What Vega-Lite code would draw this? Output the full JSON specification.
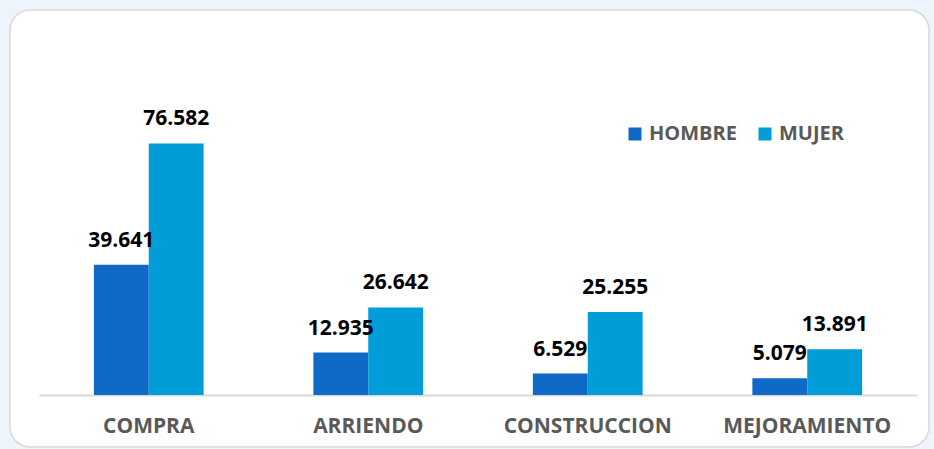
{
  "$schema": "https://vega.github.io/schema/vega-lite/v6.json",
  "width": 919,
  "height": 437,
  "autosize": {"type": "none"},
  "padding": {"left": 10, "top": 10, "right": 5, "bottom": 2},
  "background": "#EEF4FC",
  "config": {
    "view": {"fill": "#FFFFFF", "stroke": "#D9D9D9", "strokeWidth": 1.5, "cornerRadius": 20},
    "locale": {"number": {"decimal": ",", "thousands": ".", "grouping": [3], "currency": ["$", ""]}},
    "font": "Open Sans"
  },
  "data": {
    "values": [
      {"tipo": "COMPRA", "sexo": "HOMBRE", "valor": 39641},
      {"tipo": "COMPRA", "sexo": "MUJER", "valor": 76582},
      {"tipo": "ARRIENDO", "sexo": "HOMBRE", "valor": 12935},
      {"tipo": "ARRIENDO", "sexo": "MUJER", "valor": 26642},
      {"tipo": "CONSTRUCCION", "sexo": "HOMBRE", "valor": 6529},
      {"tipo": "CONSTRUCCION", "sexo": "MUJER", "valor": 25255},
      {"tipo": "MEJORAMIENTO", "sexo": "HOMBRE", "valor": 5079},
      {"tipo": "MEJORAMIENTO", "sexo": "MUJER", "valor": 13891}
    ]
  },
  "encoding": {
    "x": {
      "field": "tipo", "type": "nominal", "sort": null,
      "scale": {"range": [29, 907], "paddingInner": 0.5, "paddingOuter": 0.25},
      "axis": {
        "title": null, "orient": "bottom", "offset": -52, "labelAngle": 0,
        "ticks": false, "domainColor": "#D9D9D9", "domainWidth": 2,
        "labelFont": "Open Sans", "labelFontSize": 21, "labelFontWeight": "bold",
        "labelColor": "#595959", "labelPadding": 20
      }
    },
    "xOffset": {"field": "sexo", "type": "nominal", "sort": ["HOMBRE", "MUJER"]},
    "y": {
      "field": "valor", "type": "quantitative",
      "scale": {"domain": [-15830, 117200], "nice": false, "zero": false},
      "axis": null
    }
  },
  "layer": [
    {
      "mark": {"type": "bar"},
      "encoding": {
        "color": {
          "field": "sexo", "type": "nominal", "sort": ["HOMBRE", "MUJER"],
          "scale": {"domain": ["HOMBRE", "MUJER"], "range": ["#0E69C7", "#009DD9"]},
          "legend": {
            "title": null, "orient": "none", "legendX": 615, "legendY": 114,
            "direction": "horizontal", "symbolType": "square", "symbolSize": 169,
            "symbolStrokeWidth": 0, "labelFont": "Open Sans", "labelFontSize": 20,
            "labelFontWeight": "bold", "labelColor": "#595959", "columnPadding": 18,
            "labelOffset": 4, "labelLimit": 200
          }
        }
      }
    },
    {
      "mark": {"type": "text", "baseline": "alphabetic", "dy": -18, "font": "Open Sans", "fontSize": 21, "fontWeight": "bold", "color": "#000000"},
      "encoding": {
        "text": {"field": "valor", "type": "quantitative", "format": ",d"}
      }
    }
  ]
}
